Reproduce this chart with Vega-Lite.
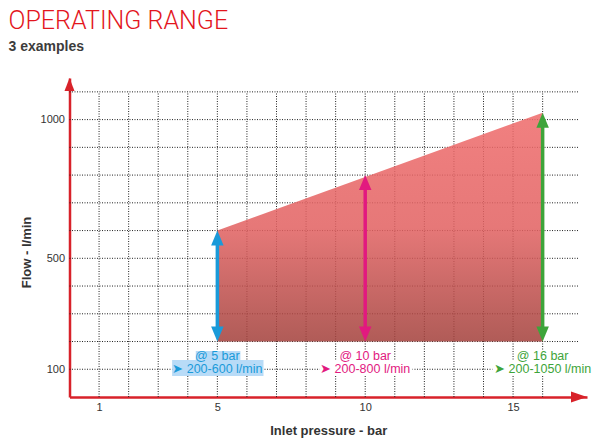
{
  "$schema": "https://vega.github.io/schema/vega-lite/v6.json",
  "width": 517.5,
  "height": 319,
  "autosize": {"type": "none"},
  "padding": {"left": 69.5, "top": 78, "right": 13, "bottom": 49},
  "background": "white",
  "title": {
    "text": "OPERATING RANGE",
    "subtitle": "3 examples",
    "anchor": "start",
    "frame": "group",
    "dx": -61,
    "offset": 24,
    "font": "Roboto",
    "fontWeight": 300,
    "fontSize": 25,
    "color": "#e3161d",
    "subtitleFont": "Liberation Sans",
    "subtitleFontWeight": "bold",
    "subtitleFontSize": 14,
    "subtitleColor": "#3c3c3c",
    "subtitlePadding": 6
  },
  "config": {
    "view": {"stroke": null},
    "font": "Liberation Sans",
    "axis": {
      "grid": false, "ticks": false,
      "domainColor": "#d8222a", "domainWidth": 2.5,
      "labelFont": "Liberation Sans", "labelFontSize": 11, "labelColor": "#333",
      "titleFont": "Liberation Sans", "titleFontSize": 13, "titleFontWeight": "bold",
      "titleColor": "#333"
    },
    "axisX": {"labelPadding": 4, "labelFlush": false, "titlePadding": 12},
    "axisY": {"labelPadding": 5, "titlePadding": 7, "titleY": 174}
  },
  "datasets": {
    "vgrid": [
      {"pressure": 1}, {"pressure": 2}, {"pressure": 3}, {"pressure": 4},
      {"pressure": 5}, {"pressure": 6}, {"pressure": 7}, {"pressure": 8},
      {"pressure": 9}, {"pressure": 10}, {"pressure": 11}, {"pressure": 12},
      {"pressure": 13}, {"pressure": 14}, {"pressure": 15}, {"pressure": 16}
    ],
    "hgrid": [
      {"flow": 100}, {"flow": 200}, {"flow": 300}, {"flow": 400},
      {"flow": 500}, {"flow": 600}, {"flow": 700}, {"flow": 800},
      {"flow": 900}, {"flow": 1000}, {"flow": 1100}
    ],
    "range": [
      {"pressure": 5, "low": 200, "high": 600},
      {"pressure": 16, "low": 200, "high": 1025}
    ],
    "arrows": [
      {"example": "5 bar", "pressure": 5, "low": 200, "high": 600},
      {"example": "10 bar", "pressure": 10, "low": 200, "high": 800},
      {"example": "16 bar", "pressure": 16, "low": 200, "high": 1025}
    ],
    "boxes": [
      {"kind": "highlight", "x_lo": 4.27, "x_hi": 5.78, "y_lo": 133, "y_hi": 166},
      {"kind": "highlight", "x_lo": 3.47, "x_hi": 6.56, "y_lo": 76, "y_hi": 133},
      {"kind": "plain", "x_lo": 9.15, "x_hi": 10.85, "y_lo": 133, "y_hi": 168},
      {"kind": "plain", "x_lo": 8.45, "x_hi": 11.6, "y_lo": 76, "y_hi": 133},
      {"kind": "plain", "x_lo": 15.1, "x_hi": 16.9, "y_lo": 133, "y_hi": 168},
      {"kind": "plain", "x_lo": 14.3, "x_hi": 17.7, "y_lo": 76, "y_hi": 133}
    ],
    "labels": [
      {"example": "5 bar", "pressure": 5, "flow": 126, "line1": "@ 5 bar", "line2": "➤ 200-600 l/min"},
      {"example": "10 bar", "pressure": 10, "flow": 126, "line1": "@ 10 bar", "line2": "➤ 200-800 l/min"},
      {"example": "16 bar", "pressure": 16, "flow": 126, "line1": "@ 16 bar", "line2": "➤ 200-1050 l/min"}
    ],
    "origin": [{"axis": "arrow"}]
  },
  "layer": [
    {
      "data": {"name": "vgrid"},
      "mark": {"type": "rule", "stroke": "#222222", "strokeDash": [1, 1.5], "strokeWidth": 1},
      "encoding": {
        "x": {
          "field": "pressure", "type": "quantitative",
          "scale": {"domain": [0, 17.5], "nice": false},
          "axis": {"title": "Inlet pressure - bar", "values": [1, 5, 10, 15]}
        },
        "y": {
          "datum": 0, "type": "quantitative",
          "scale": {"domain": [0, 1150], "nice": false},
          "axis": {"title": "Flow - l/min", "values": [100, 500, 1000], "format": "d"}
        },
        "y2": {"datum": 1100}
      }
    },
    {
      "data": {"name": "hgrid"},
      "mark": {"type": "rule", "stroke": "#222222", "strokeDash": [1, 1.5], "strokeWidth": 1},
      "encoding": {
        "y": {"field": "flow", "type": "quantitative"},
        "x": {"datum": 0, "type": "quantitative"},
        "x2": {"datum": 17.2}
      }
    },
    {
      "data": {"name": "range"},
      "mark": {
        "type": "area",
        "opacity": 0.86,
        "color": {
          "gradient": "linear", "x1": 0, "y1": 0, "x2": 0, "y2": 1,
          "stops": [
            {"offset": 0, "color": "#ef6b6b"},
            {"offset": 0.5, "color": "#e26262"},
            {"offset": 1, "color": "#a3413c"}
          ]
        }
      },
      "encoding": {
        "x": {"field": "pressure", "type": "quantitative"},
        "y": {"field": "high", "type": "quantitative"},
        "y2": {"field": "low"}
      }
    },
    {
      "data": {"name": "arrows"},
      "mark": {"type": "rule", "strokeWidth": 3.5, "yOffset": 8, "y2Offset": -8},
      "encoding": {
        "x": {"field": "pressure", "type": "quantitative"},
        "y": {"field": "high", "type": "quantitative"},
        "y2": {"field": "low"},
        "color": {
          "field": "example", "type": "nominal",
          "scale": {"domain": ["5 bar", "10 bar", "16 bar"], "range": ["#1a9ad9", "#e2197f", "#3ea43a"]},
          "legend": null
        }
      }
    },
    {
      "data": {"name": "arrows"},
      "mark": {"type": "point", "shape": "M0,0L-1.25,3L1.25,3Z", "filled": true, "size": 100, "opacity": 1, "strokeWidth": 0},
      "encoding": {
        "x": {"field": "pressure", "type": "quantitative"},
        "y": {"field": "high", "type": "quantitative"},
        "color": {"field": "example", "type": "nominal", "legend": null}
      }
    },
    {
      "data": {"name": "arrows"},
      "mark": {"type": "point", "shape": "M0,0L-1.25,-3L1.25,-3Z", "filled": true, "size": 100, "opacity": 1, "strokeWidth": 0},
      "encoding": {
        "x": {"field": "pressure", "type": "quantitative"},
        "y": {"field": "low", "type": "quantitative"},
        "color": {"field": "example", "type": "nominal", "legend": null}
      }
    },
    {
      "data": {"name": "boxes"},
      "mark": {"type": "rect"},
      "encoding": {
        "x": {"field": "x_lo", "type": "quantitative"},
        "x2": {"field": "x_hi"},
        "y": {"field": "y_lo", "type": "quantitative"},
        "y2": {"field": "y_hi"},
        "fill": {
          "field": "kind", "type": "nominal",
          "scale": {"domain": ["highlight", "plain"], "range": ["#b8dbf7", "#ffffff"]},
          "legend": null
        }
      }
    },
    {
      "data": {"name": "labels"},
      "mark": {"type": "text", "font": "Liberation Sans", "fontSize": 12.5, "dy": -6.5, "align": "center", "baseline": "middle"},
      "encoding": {
        "x": {"field": "pressure", "type": "quantitative"},
        "y": {"field": "flow", "type": "quantitative"},
        "text": {"field": "line1"},
        "color": {"field": "example", "type": "nominal", "legend": null}
      }
    },
    {
      "data": {"name": "labels"},
      "mark": {"type": "text", "font": "Liberation Sans", "fontSize": 12.5, "dy": 6.5, "align": "center", "baseline": "middle"},
      "encoding": {
        "x": {"field": "pressure", "type": "quantitative"},
        "y": {"field": "flow", "type": "quantitative"},
        "text": {"field": "line2"},
        "color": {"field": "example", "type": "nominal", "legend": null}
      }
    },
    {
      "data": {"name": "origin"},
      "mark": {"type": "point", "shape": "M0,0L-1,2.6L1,2.6Z", "filled": true, "size": 100, "opacity": 1, "strokeWidth": 0, "color": "#d8222a"},
      "encoding": {
        "x": {"datum": 0, "type": "quantitative"},
        "y": {"datum": 1150, "type": "quantitative"}
      }
    },
    {
      "data": {"name": "origin"},
      "mark": {"type": "point", "shape": "M0,0L-3.2,-1.1L-3.2,1.1Z", "filled": true, "size": 100, "opacity": 1, "strokeWidth": 0, "color": "#d8222a"},
      "encoding": {
        "x": {"datum": 17.5, "type": "quantitative"},
        "y": {"datum": 0, "type": "quantitative"}
      }
    }
  ]
}
